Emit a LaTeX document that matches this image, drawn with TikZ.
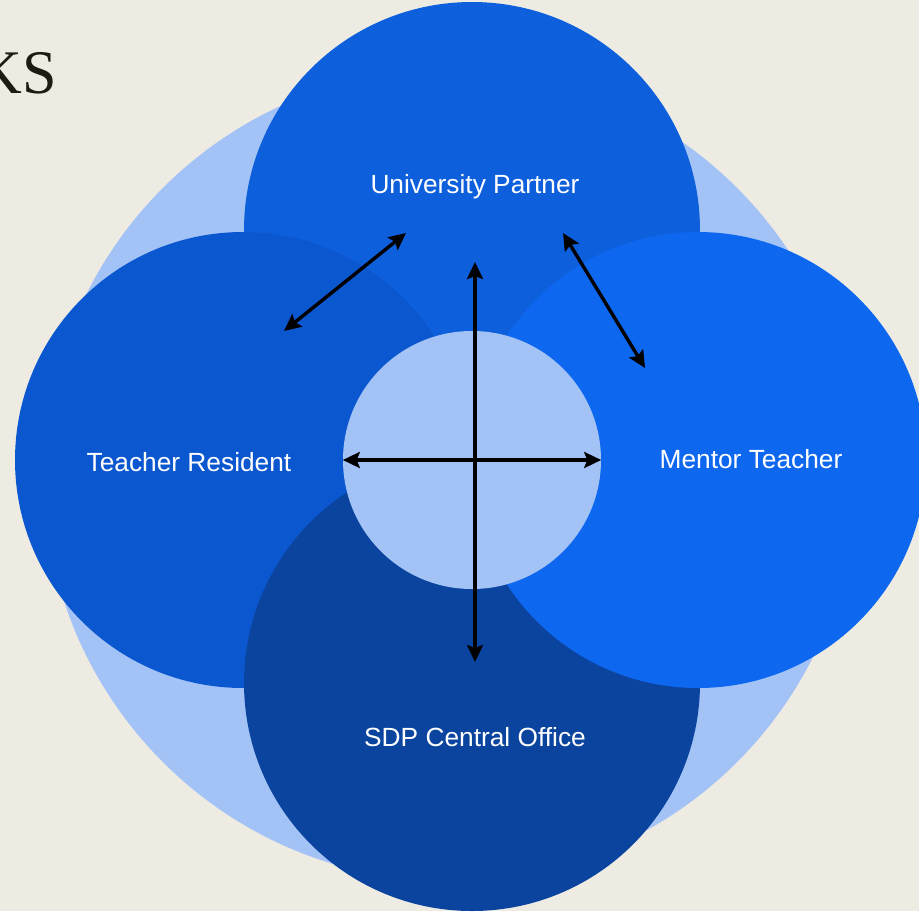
\documentclass[tikz,border=0pt]{standalone}
\usepackage{fontspec}
\setmainfont{Liberation Sans}
\newfontfamily\titlefont{Liberation Serif}
\usetikzlibrary{arrows.meta}
\definecolor{bgc}{RGB}{238,235,227}
\definecolor{lightc}{RGB}{163,195,247}
\definecolor{topc}{RGB}{13,95,220}
\definecolor{leftc}{RGB}{11,87,208}
\definecolor{rightc}{RGB}{14,103,239}
\definecolor{botc}{RGB}{10,68,159}
\definecolor{titlec}{RGB}{28,28,18}
\tikzset{
  disc/.style={circle, inner sep=0pt, draw=none, minimum size=#1},
  lbl/.style={text=white, font=\fontsize{26.3}{31}\selectfont, inner sep=0pt},
  link/.style={line width=3.4pt, {Stealth[length=17pt,width=16pt,inset=3pt]}-{Stealth[length=17pt,width=16pt,inset=3pt]}},
}
\begin{document}
\begin{tikzpicture}[x=1pt,y=-1pt]
\fill[bgc] (0,0) rectangle (919,911);
\useasboundingbox (0,0) rectangle (919,911);
\node[anchor=base east, text=titlec, font=\titlefont\fontsize{62}{70}\selectfont, inner sep=0pt] (title) at (57,93) {KS};
\node[disc=812pt, fill=lightc] (big) at (450,475) {};
\node[disc=456pt, fill=topc] (univ) at (472,230) {};
\node[disc=456pt, fill=leftc] (res) at (243,460) {};
\node[disc=456pt, fill=botc] (sdp) at (472,683) {};
\node[disc=456pt, fill=rightc] (ment) at (698,460) {};
\node[disc=258pt, fill=lightc] (core) at (472,460) {};
\node[lbl] (univt) at (475,187) {University Partner};
\node[lbl] (rest) at (189,462) {Teacher Resident};
\node[lbl] (mentt) at (751,459) {Mentor Teacher};
\node[lbl] (sdpt) at (475,737) {SDP Central Office};
\coordinate (vtop) at (475,262);
\coordinate (vbot) at (475,662);
\coordinate (la) at (406,233);
\coordinate (lb) at (284,331);
\coordinate (ra) at (563,233);
\coordinate (rb) at (645,368);
\draw[link] (core.west) -- (core.east);
\draw[link] (vtop) -- (vbot);
\draw[link] (la) -- (lb);
\draw[link] (ra) -- (rb);
\end{tikzpicture}
\end{document}
